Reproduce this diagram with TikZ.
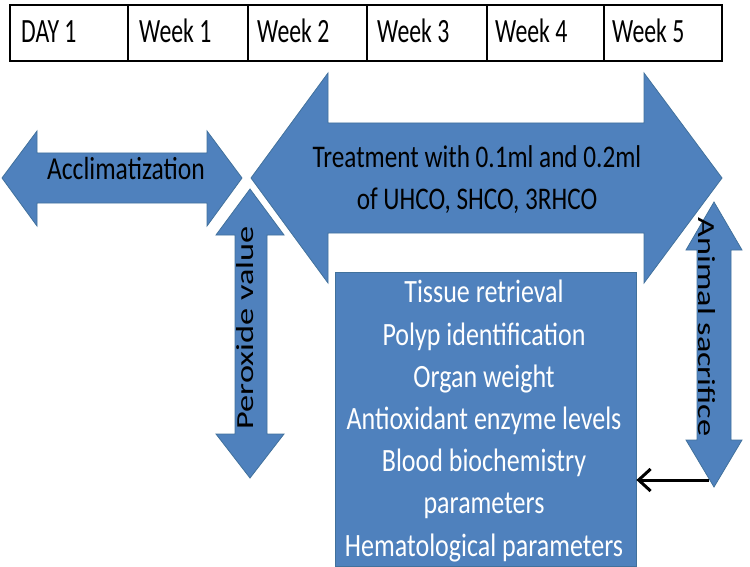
\documentclass[tikz,border=0pt]{standalone}
\usepackage{fontspec}
\setmainfont{Carlito}
\newfontfamily\hf[FakeStretch=0.8]{Carlito}
\newfontfamily\tf[FakeStretch=0.7]{Carlito}
\newfontfamily\vf[FakeStretch=1.4]{Carlito}
\usetikzlibrary{arrows.meta}
\definecolor{ablue}{HTML}{4F81BD}
\definecolor{aedge}{HTML}{41719C}
\tikzset{
  bluesh/.style={fill=ablue, draw=aedge, line width=0.8pt, line join=miter},
  cell/.style={anchor=base west, inner sep=0pt, font=\tf\fontsize{34}{34}\selectfont},
  htext/.style={inner sep=0pt, align=center, font=\hf\fontsize{31.5}{43}\selectfont},
  vtext/.style={inner sep=0pt, font=\vf\fontsize{24.5}{24.5}\selectfont},
  boxtext/.style={inner sep=0pt, align=center, text=white, font=\hf\fontsize{32.5}{42.2}\selectfont},
  conn/.style={line width=3pt, -{Straight Barb[length=12pt,width=22pt,line width=3pt]}}
}
\begin{document}
\begin{tikzpicture}[x=1pt,y=-1pt]
\useasboundingbox (0,0) rectangle (750,567);
% table
\draw[line width=1.6pt] (10,5) rectangle (722,61);
\foreach \xx in {128,248,367,487,604} \draw[line width=1.4pt] (\xx,5) -- (\xx,61);
\node[cell] (c0) at (21,43) {DAY 1};
\node[cell] (c1) at (139,43) {Week 1};
\node[cell] (c2) at (257,43) {Week 2};
\node[cell] (c3) at (377,43) {Week 3};
\node[cell] (c4) at (495,43) {Week 4};
\node[cell] (c5) at (612,43) {Week 5};
% acclimatization arrow
\draw[bluesh] (2,178) -- (37,131) -- (37,153) -- (207,153) -- (207,131) -- (242,178)
  -- (207,226) -- (207,203) -- (37,203) -- (37,226) -- cycle;
\node[htext, anchor=base, font=\hf\fontsize{32}{32}\selectfont] (acc) at (126,180) {Acclimatization};
% treatment arrow
\draw[bluesh] (251,178) -- (328,73) -- (328,123) -- (644,123) -- (644,73) -- (722,178)
  -- (644,283) -- (644,233) -- (328,233) -- (328,283) -- cycle;
\node[htext, anchor=base] (trt) at (477,210) {Treatment with 0.1ml and 0.2ml\\of UHCO, SHCO, 3RHCO};
% peroxide arrow
\draw[bluesh] (250,189) -- (284,235) -- (267,235) -- (267,434) -- (284,434) -- (250,478)
  -- (216,434) -- (235,434) -- (235,235) -- (216,235) -- cycle;
\node[vtext, rotate=90] (per) at (245,328) {Peroxide value};
% animal sacrifice arrow
\draw[bluesh] (714,202) -- (742,250) -- (731,250) -- (731,440) -- (742,440) -- (714,487)
  -- (686,440) -- (697,440) -- (697,250) -- (686,250) -- cycle;
\node[vtext, rotate=-90] (ani) at (707,327) {Animal sacrifice};
% box
\node[bluesh, minimum width=301pt, minimum height=294pt, inner sep=0pt] (box) at (485.5,419) {};
\node[boxtext] (btx) at (484,421) {Tissue retrieval\\Polyp identification\\Organ weight\\Antioxidant enzyme levels\\Blood biochemistry\\parameters\\Hematological parameters};
% connector
\coordinate (cs) at (709,480);
\draw[conn] (cs) -- (box.east |- cs);
\end{tikzpicture}
\end{document}
